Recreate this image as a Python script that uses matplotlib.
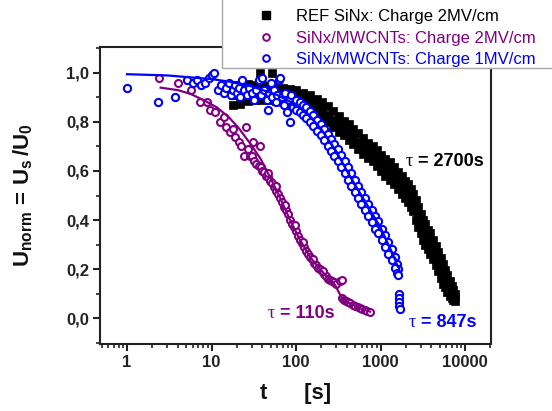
import numpy as np
import matplotlib
matplotlib.use('Agg')
import matplotlib.pyplot as plt
from matplotlib.lines import Line2D
from matplotlib.patches import Rectangle
from matplotlib.ticker import LogLocator, FixedLocator, MultipleLocator, NullFormatter

plt.rcParams['font.family'] = 'Liberation Sans'
plt.rcParams['mathtext.fontset'] = 'custom'
plt.rcParams['mathtext.rm'] = 'Liberation Sans'
plt.rcParams['mathtext.bf'] = 'Liberation Sans:bold'
plt.rcParams['mathtext.it'] = 'Liberation Sans:italic'

# --- datos ---
# REF SiNx (cuadrados negros): banda densa, borde superior / centro / inferior
ref_t = [18, 22, 27, 33, 40, 48, 58, 70, 85, 100, 120, 146, 175, 205, 240, 274,
         320, 370, 420, 470, 540, 620, 710, 810, 900, 1000, 1140, 1290, 1450,
         1600, 1800, 1950, 2100, 2270, 2430, 2600, 2800, 2980, 3170, 3400, 3600,
         3880, 4170, 4500, 4800, 5150, 5480, 5850, 6200, 6600, 7000, 7300, 7600]
ref_hi = [0.95, 0.95, 0.955, 0.95, 0.95, 0.945, 0.945, 0.94, 0.935, 0.93, 0.92,
          0.91, 0.895, 0.88, 0.865, 0.845, 0.825, 0.805, 0.79, 0.77, 0.755, 0.735,
          0.715, 0.70, 0.685, 0.665, 0.65, 0.635, 0.615, 0.595, 0.58, 0.56, 0.545,
          0.525, 0.505, 0.48, 0.455, 0.425, 0.40, 0.385, 0.36, 0.345, 0.32, 0.295,
          0.27, 0.245, 0.22, 0.195, 0.175, 0.15, 0.13, 0.115, 0.10]
ref_mid = [0.91, 0.915, 0.92, 0.92, 0.92, 0.92, 0.915, 0.91, 0.905, 0.90, 0.89,
           0.88, 0.865, 0.85, 0.83, 0.81, 0.79, 0.775, 0.755, 0.74, 0.72, 0.70,
           0.685, 0.67, 0.65, 0.63, 0.615, 0.60, 0.58, 0.56, 0.54, 0.525, 0.51,
           0.49, 0.47, 0.44, 0.41, 0.385, 0.36, 0.34, 0.32, 0.30, 0.28, 0.255,
           0.23, 0.205, 0.18, 0.16, 0.14, 0.12, 0.106, 0.095, 0.086]
ref_lo = [0.87, 0.875, 0.885, 0.89, 0.89, 0.89, 0.885, 0.88, 0.875, 0.87, 0.86,
          0.85, 0.835, 0.82, 0.80, 0.78, 0.76, 0.745, 0.725, 0.71, 0.69, 0.67,
          0.655, 0.64, 0.62, 0.60, 0.58, 0.565, 0.545, 0.525, 0.505, 0.49, 0.475,
          0.455, 0.435, 0.40, 0.37, 0.345, 0.32, 0.30, 0.28, 0.26, 0.24, 0.215,
          0.19, 0.165, 0.14, 0.125, 0.105, 0.09, 0.08, 0.075, 0.07]
ref_extra_t = [37, 52]
ref_extra_u = [1.0, 1.0]

# SiNx/MWCNTs 2MV/cm (circulos morados)
cnt2_t = [2.4, 4.0, 5.7, 7.3, 8.9, 9.6, 11, 12.6, 14, 15, 16.5, 18, 19, 21,
          22.5, 24, 25.6, 27, 28.5, 31, 37,
          30, 32, 34, 36, 38, 40, 42, 44, 46, 49, 52, 55, 58, 61, 65, 68, 72,
          76, 80, 85, 90, 95, 100, 106, 111, 117, 124, 131, 138, 146, 154, 163,
          172, 182, 192, 203, 215, 228, 240, 253, 268, 284, 300,
          47, 58, 75, 96, 120, 160, 210, 330, 350,
          350, 370, 390, 415, 440, 470, 500, 535, 570, 610, 650, 700, 750]
cnt2_u = [0.98, 0.96, 0.93, 0.88, 0.88, 0.85, 0.84, 0.80, 0.82, 0.78, 0.76,
          0.77, 0.74, 0.72, 0.70, 0.66, 0.78, 0.69, 0.66, 0.72, 0.70,
          0.66, 0.64, 0.63, 0.62, 0.615, 0.60, 0.595, 0.58, 0.575, 0.56, 0.55,
          0.535, 0.52, 0.505, 0.49, 0.475, 0.455, 0.44, 0.425, 0.40, 0.385,
          0.37, 0.355, 0.335, 0.32, 0.305, 0.29, 0.275, 0.26, 0.25, 0.24, 0.225,
          0.215, 0.205, 0.20, 0.19, 0.18, 0.17, 0.16, 0.155, 0.15, 0.145, 0.14,
          0.59, 0.54, 0.46, 0.38, 0.31, 0.24, 0.19, 0.15, 0.155,
          0.08, 0.075, 0.07, 0.065, 0.06, 0.055, 0.05, 0.045, 0.04, 0.037,
          0.033, 0.03, 0.026]
cnt2_fit_t = [2.5, 4, 5.6, 8, 11.5, 16, 21, 29, 38, 50, 65, 85, 111, 146, 192,
              253, 290, 350, 400, 500, 600, 750]
cnt2_fit_u = [0.94, 0.93, 0.915, 0.89, 0.86, 0.82, 0.775, 0.71, 0.65, 0.57,
              0.49, 0.40, 0.32, 0.25, 0.20, 0.155, 0.135, 0.08, 0.065, 0.05,
              0.037, 0.026]

# SiNx/MWCNTs 1MV/cm (circulos azules)
cnt1_t = [1.0, 2.3, 3.7, 5.1, 6.0, 6.7, 7.5, 8.4, 9.3, 10.0, 10.8, 12, 13, 14,
          15, 16, 17, 18, 19, 20, 21, 22, 23, 24, 26, 28, 30, 32, 34, 36, 38,
          40, 42, 45, 46, 48, 50, 52, 55, 58, 60, 63, 65, 68, 72, 75, 78, 82,
          85, 88, 92, 96,
          100, 110, 121, 133, 146, 160, 177, 195, 215, 237, 260, 285, 313, 343,
          376, 412, 452, 495, 543, 595, 652, 715, 784, 860, 943, 1030, 1130,
          1240, 1360, 1490, 1580, 1620,
          100, 110, 121, 133, 146, 160, 177, 195, 215, 237, 260, 285, 313, 343,
          376, 412, 452, 495, 543, 595, 652, 715, 784, 860, 943, 1030, 1130,
          1240, 1360, 1490, 1580, 1620,
          1640, 1650, 1660, 1670, 1680]
cnt1_u = [0.94, 0.88, 0.90, 0.97, 0.96, 0.97, 0.95, 0.96, 0.98, 0.99, 1.0,
          0.93, 0.95, 0.92, 0.94, 0.96, 0.91, 0.93, 0.95, 0.92, 0.94, 0.90,
          0.97, 0.93, 0.91, 0.94, 0.92, 0.89, 0.93, 0.97, 0.91, 0.98, 0.93,
          0.89, 0.85, 0.92, 0.96, 0.90, 0.93, 0.88, 0.91, 0.97, 0.98, 0.90,
          0.87, 0.92, 0.84, 0.89, 0.80, 0.91, 0.86, 0.88,
          0.89, 0.88, 0.87, 0.86, 0.845, 0.83, 0.81, 0.79, 0.77, 0.75, 0.73,
          0.71, 0.69, 0.665, 0.64, 0.615, 0.59, 0.565, 0.54, 0.515, 0.49, 0.465,
          0.44, 0.415, 0.395, 0.365, 0.34, 0.31, 0.28, 0.25, 0.22, 0.20,
          0.85, 0.84, 0.83, 0.815, 0.80, 0.785, 0.765, 0.745, 0.725, 0.70, 0.68,
          0.66, 0.64, 0.615, 0.59, 0.565, 0.54, 0.515, 0.49, 0.465, 0.44, 0.415,
          0.39, 0.365, 0.345, 0.32, 0.29, 0.26, 0.235, 0.205, 0.185, 0.175,
          0.10, 0.08, 0.065, 0.05, 0.035]
cnt1_fit_t = [1, 3, 10, 16, 30, 60, 100, 150, 200, 300, 400, 550, 700, 850,
              1000, 1200, 1400, 1600]
cnt1_fit_u = [0.995, 0.99, 0.975, 0.965, 0.945, 0.91, 0.87, 0.82, 0.77, 0.68,
              0.60, 0.52, 0.46, 0.41, 0.37, 0.31, 0.26, 0.21]

leyendas = ['REF SiNx: Charge 2MV/cm', 'SiNx/MWCNTs: Charge 2MV/cm',
            'SiNx/MWCNTs: Charge 1MV/cm']
x_ticks = [1, 10, 100, 1000, 10000]
x_etiquetas = ['1', '10', '100', '1000', '10000']
y_ticks = [0.0, 0.2, 0.4, 0.6, 0.8, 1.0]
y_etiquetas = ['0,0', '0,2', '0,4', '0,6', '0,8', '1,0']

MORADO = '#800080'
AZUL = '#0000ff'
NEGRO = '#000000'

fig = plt.figure(figsize=(5.52, 4.11), dpi=100)
ax = fig.add_axes([100/552, 1-344/411, 391/552, 297/411])

# banda negra
ax.plot(ref_t * 3, ref_hi + ref_mid + ref_lo, 's', color=NEGRO, ms=6.0, mew=0.5, zorder=2)
ax.plot(ref_extra_t, ref_extra_u, 's', color=NEGRO, ms=5.5, mew=0.5, zorder=2)

# morado
ax.plot(cnt2_t, cnt2_u, 'o', mfc='white', mec=MORADO, ms=5.0, mew=1.5, zorder=3)
ax.plot(cnt2_fit_t, cnt2_fit_u, '-', color=MORADO, lw=1.6, zorder=4)

# azul
ax.plot(cnt1_t, cnt1_u, 'o', mfc='white', mec=AZUL, ms=5.2, mew=1.5, zorder=5)
ax.plot(cnt1_fit_t, cnt1_fit_u, '-', color=AZUL, lw=1.6, zorder=6)

ax.set_xscale('log')
ax.set_xlim(0.479, 20300)
ax.set_ylim(-0.106, 1.106)

ax.xaxis.set_major_locator(FixedLocator(x_ticks))
ax.set_xticklabels(x_etiquetas)
ax.xaxis.set_minor_locator(LogLocator(base=10, subs=np.arange(2, 10), numticks=20))
ax.xaxis.set_minor_formatter(NullFormatter())
ax.set_yticks(y_ticks)
ax.set_yticklabels(y_etiquetas)
ax.yaxis.set_minor_locator(MultipleLocator(0.1))

ax.tick_params(which='major', direction='out', length=5, width=1.5, color='#222222',
               labelsize=12, labelcolor='#222222', pad=3)
ax.tick_params(which='minor', direction='out', length=3, width=1.2, color='#222222')
ax.tick_params(top=False, right=False, which='both')
for lab in ax.get_xticklabels() + ax.get_yticklabels():
    lab.set_fontweight('bold')
for s in ax.spines.values():
    s.set_linewidth(1.5)
    s.set_color('#222222')

ax.set_xlabel('t      [s]', fontsize=16, fontweight='bold', color='#111111')
ax.xaxis.set_label_coords(0.5, -0.168)
ax.xaxis.label.set_va('center')
ax.set_ylabel(r'$\mathbf{U_{norm}\,=\,U_s\,/U_0}$', fontsize=16, color='#111111')
ax.yaxis.set_label_coords(-0.197, 0.5)
ax.yaxis.label.set_va('center')

# etiquetas tau
def etiqueta_tau(x, y, texto, color):
    ax.text(x, y, '\u03c4', fontsize=13, family='Liberation Serif', color=color,
            ha='right', va='center')
    ax.text(x, y, texto, fontsize=13, fontweight='bold', color=color,
            ha='left', va='center')

etiqueta_tau(2430, 0.637, ' = 2700s', NEGRO)
etiqueta_tau(56, 0.02, ' = 110s', MORADO)
etiqueta_tau(2630, -0.02, ' = 847s', AZUL)

# leyenda con marco propio
marco = Rectangle((222/552, 1-68/411), 0.7, 0.3, transform=fig.transFigure,
                  facecolor='white', edgecolor='#a8a8a8', lw=1.0, zorder=3)
fig.patches.append(marco)
manejadores = [
    Line2D([], [], ls='none', marker='s', color=NEGRO, ms=5.5),
    Line2D([], [], ls='none', marker='o', mfc='white', mec=MORADO, ms=4.8, mew=1.4),
    Line2D([], [], ls='none', marker='o', mfc='white', mec=AZUL, ms=4.8, mew=1.4),
]
leg = fig.legend(manejadores, leyendas, loc='upper left', bbox_to_anchor=(249/552, 1.0),
                 frameon=False, fontsize=12, handlelength=1.0, handletextpad=1.25,
                 labelspacing=0.38, borderpad=0.05, labelcolor=[NEGRO, MORADO, AZUL])
leg.set_zorder(5)

plt.savefig('out.png', dpi=100)
